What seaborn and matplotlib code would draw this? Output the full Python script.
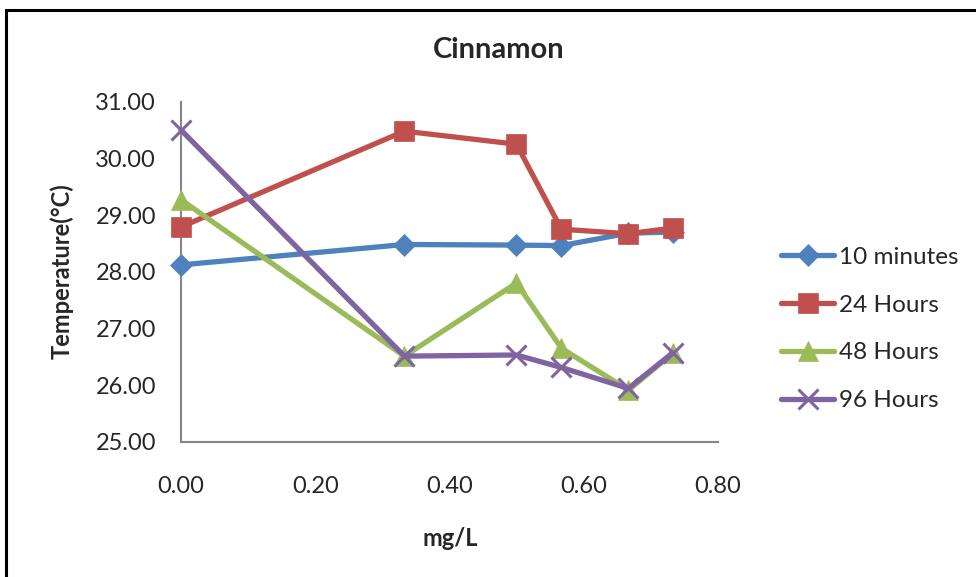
import matplotlib
matplotlib.use("Agg")
import matplotlib.pyplot as plt
from matplotlib.patches import Rectangle
import seaborn as sns
import pandas as pd

# Concentrations (mg/L) and temperature readings for each exposure time
dose = [0.0, 0.333, 0.5, 0.567, 0.667, 0.733]
temp_10min = [28.12, 28.48, 28.47, 28.46, 28.68, 28.70]
temp_24h = [28.79, 30.48, 30.25, 28.75, 28.67, 28.77]
temp_48h = [29.27, 26.51, 27.80, 26.65, 25.91, 26.56]
temp_96h = [30.50, 26.51, 26.53, 26.31, 25.94, 26.57]
series_names = ["10 minutes", "24 Hours", "48 Hours", "96 Hours"]
y_ticks = [25.0, 26.0, 27.0, 28.0, 29.0, 30.0, 31.0]
x_ticks = [0.0, 0.2, 0.4, 0.6, 0.8]

frames = []
for name, vals in zip(series_names, [temp_10min, temp_24h, temp_48h, temp_96h]):
    frames.append(pd.DataFrame({"dose": dose, "temp": vals, "series": name}))
df = pd.concat(frames, ignore_index=True)

colors = {"10 minutes": "#4F81BD", "24 Hours": "#C0504D",
          "48 Hours": "#9BBB59", "96 Hours": "#8064A2"}
markers = {"10 minutes": "D", "24 Hours": "s", "48 Hours": "^", "96 Hours": "x"}
msizes = {"10 minutes": 11, "24 Hours": 14, "48 Hours": 14, "96 Hours": 15}

sns.set_theme(style="white")
plt.rcParams["font.family"] = ["Lato", "DejaVu Sans"]

fig = plt.figure(figsize=(9.76, 5.77), dpi=100)
ax = fig.add_axes([181 / 976, 1 - 441.7 / 577, (717.7 - 181) / 976, (441.7 - 101.7) / 577])

for name in series_names:
    sub = df[df["series"] == name]
    sns.lineplot(data=sub, x="dose", y="temp", ax=ax, color=colors[name],
                 marker=markers[name], markersize=msizes[name],
                 markeredgewidth=2.2 if name == "96 Hours" else 0.5,
                 markeredgecolor=colors[name], linewidth=3.8, label=name,
                 estimator=None, sort=False, clip_on=False)

ax.set_xlim(0, 0.8)
ax.set_ylim(25, 31)
ax.set_xticks(x_ticks)
ax.set_yticks(y_ticks)
ax.set_xticklabels([f"{v:.2f}" for v in x_ticks], fontsize=17)
ax.set_yticklabels([f"{v:.2f}" for v in y_ticks], fontsize=17)
ax.tick_params(axis="x", pad=25, length=0)
ax.tick_params(axis="y", pad=18, length=0)
for side in ["top", "right"]:
    ax.spines[side].set_visible(False)
for side in ["left", "bottom"]:
    ax.spines[side].set_color("#868686")
    ax.spines[side].set_linewidth(1.5)
    ax.spines[side].set_zorder(0.5)

ax.set_xlabel("mg/L", fontsize=17, fontweight="bold")
ax.set_ylabel("Temperature(°C)", fontsize=17, fontweight="bold")
ax.xaxis.set_label_coords((450 - 181) / 536.7, (441.7 - 538) / 340)
ax.xaxis.label.set_va("center")
ax.yaxis.set_label_coords((62 - 181) / 536.7, (441.7 - 271) / 340)
ax.yaxis.label.set_va("center")
fig.text(499 / 976, 1 - 50 / 577, "Cinnamon", ha="center", va="center",
         fontsize=21, fontweight="bold")

leg = ax.legend(loc="center left", bbox_to_anchor=((781 - 181) / 536.7, (441.7 - 329) / 340),
                frameon=False, fontsize=17.5, handlelength=2.2, handletextpad=0.2,
                labelspacing=1.1, borderpad=0, borderaxespad=0)

# Outer chart frame
fig.patches.append(Rectangle((6 / 976, -0.2), 1.2, 1.2 - 10 / 577,
                             transform=fig.transFigure, fill=False,
                             edgecolor="black", linewidth=2.2))

fig.savefig("out.png", dpi=100)
